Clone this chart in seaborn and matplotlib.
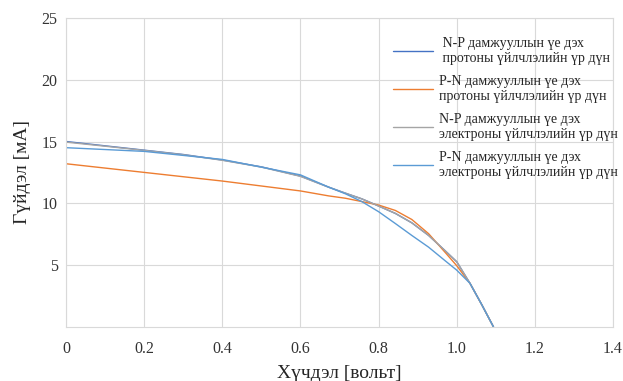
import pandas as pd
import numpy as np
import matplotlib
matplotlib.use("Agg")
import matplotlib.pyplot as plt
import seaborn as sns

# Хүчдэл (вольт) ба гүйдэл (мА) - зургаас уншсан утгууд
np_proton_v = [0, 0.1, 0.2, 0.3, 0.4, 0.5, 0.6, 0.672, 0.715, 0.757, 0.8, 0.843, 0.885, 0.928, 0.97, 1.0, 1.034, 1.064, 1.094]
np_proton_i = [15.0, 14.65, 14.3, 13.95, 13.5, 12.95, 12.2, 11.31, 10.82, 10.36, 9.78, 9.18, 8.42, 7.4, 6.17, 5.27, 3.52, 1.8, 0.0]

pn_proton_v = [0, 0.2, 0.4, 0.6, 0.672, 0.715, 0.757, 0.8, 0.843, 0.885, 0.928, 0.97, 1.0, 1.034, 1.064, 1.094]
pn_proton_i = [13.2, 12.5, 11.8, 11.0, 10.6, 10.41, 10.14, 9.86, 9.42, 8.69, 7.54, 6.04, 4.95, 3.52, 1.8, 0.0]

np_electron_v = [0, 0.1, 0.2, 0.3, 0.4, 0.5, 0.6, 0.672, 0.715, 0.757, 0.8, 0.843, 0.885, 0.928, 0.97, 1.0, 1.034, 1.064, 1.094]
np_electron_i = [14.95, 14.62, 14.28, 13.93, 13.48, 12.93, 12.18, 11.3, 10.82, 10.36, 9.78, 9.18, 8.42, 7.4, 6.17, 5.27, 3.52, 1.8, 0.0]

pn_electron_v = [0, 0.2, 0.4, 0.6, 0.672, 0.715, 0.757, 0.8, 0.843, 0.885, 0.928, 0.97, 1.0, 1.034, 1.064, 1.094]
pn_electron_i = [14.5, 14.2, 13.55, 12.3, 11.31, 10.77, 10.14, 9.32, 8.36, 7.4, 6.45, 5.36, 4.59, 3.52, 1.8, 0.0]

labels = [
    " N-P дамжууллын үе дэх\n протоны үйлчлэлийн үр дүн",
    "P-N дамжууллын үе дэх\nпротоны үйлчлэлийн үр дүн",
    "N-P дамжууллын үе дэх\nэлектроны үйлчлэлийн үр дүн",
    "P-N дамжууллын үе дэх\nэлектроны үйлчлэлийн үр дүн",
]
colors = ["#4472C4", "#ED7D31", "#A5A5A5", "#5B9BD5"]

x_ticks = [0, 0.2, 0.4, 0.6, 0.8, 1.0, 1.2, 1.4]
x_tick_labels = ["0", "0.2", "0.4", "0.6", "0.8", "1.0", "1.2", "1.4"]
y_ticks = [5, 10, 15, 20, 25]

# урт хэлбэрийн хүснэгт
frames = []
for lab, v, i in zip(labels,
                     [np_proton_v, pn_proton_v, np_electron_v, pn_electron_v],
                     [np_proton_i, pn_proton_i, np_electron_i, pn_electron_i]):
    frames.append(pd.DataFrame({"v": v, "i": i, "series": lab}))
df = pd.concat(frames, ignore_index=True)

sns.set_style("whitegrid")
plt.rcParams["font.family"] = ["Liberation Serif", "DejaVu Serif"]

fig = plt.figure(figsize=(6.23, 3.81), dpi=100)
ax = fig.add_axes([0.106, 0.142, 0.878, 0.811])

sns.lineplot(data=df, x="v", y="i", hue="series", hue_order=labels,
             palette=colors, estimator=None, sort=False, linewidth=1.0, ax=ax)

ax.set_xlim(0, 1.4)
ax.set_ylim(0, 25)
ax.set_xticks(x_ticks)
ax.set_xticklabels(x_tick_labels)
ax.set_yticks(y_ticks)
ax.tick_params(axis="both", length=0, labelsize=11.5, colors="#333333")
ax.tick_params(axis="x", pad=10)
ax.tick_params(axis="y", pad=6)
ax.grid(True, color="#d9d9d9", linewidth=0.8)
for s in ax.spines.values():
    s.set_color("#d9d9d9")
    s.set_linewidth(0.8)

ax.set_xlabel("Хүчдэл [вольт]", fontsize=14, labelpad=6)
ax.set_ylabel("Гүйдэл [мА]", fontsize=14, labelpad=8)

ax.legend(loc="upper left", bbox_to_anchor=(0.575, 0.978), frameon=False,
          fontsize=10, handlelength=2.9, handletextpad=0.4, labelspacing=0.72)

plt.savefig("out.png", dpi=100)
